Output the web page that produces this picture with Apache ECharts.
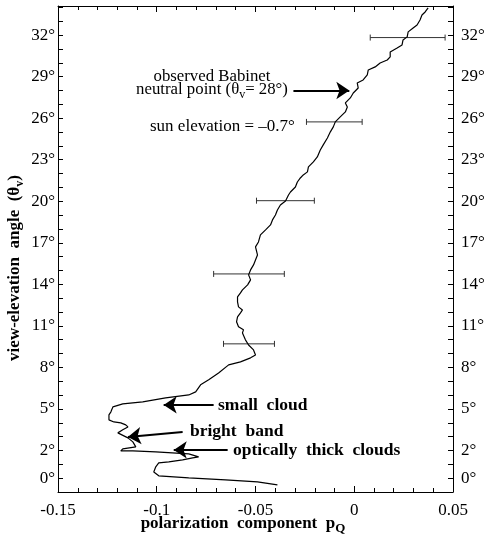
<!DOCTYPE html>
<html>
<head>
<meta charset="utf-8">
<script src="https://cdn.jsdelivr.net/npm/echarts@6/dist/echarts.min.js"></script>
<style>html,body{margin:0;padding:0;background:#fff}#c{width:488px;height:543px}</style>
</head>
<body>
<div id="c"></div>
<script>
// ---- data ----
const curvePQ = [-0.0389,-0.0490,-0.0652,-0.0838,-0.0990,-0.1015,-0.1005,-0.0990,-0.0939,-0.0869,-0.0818,-0.0788,-0.0838,-0.1005,-0.1121,-0.1182,-0.1172,-0.1106,-0.1096,-0.1121,-0.1146,-0.1197,-0.1207,-0.1172,-0.1146,-0.1157,-0.1182,-0.1217,-0.1242,-0.1242,-0.1232,-0.1222,-0.1172,-0.1071,-0.0955,-0.0838,-0.0803,-0.0778,-0.0737,-0.0687,-0.0636,-0.0576,-0.0525,-0.0500,-0.0510,-0.0535,-0.0551,-0.0566,-0.0561,-0.0586,-0.0596,-0.0591,-0.0576,-0.0566,-0.0586,-0.0591,-0.0591,-0.0576,-0.0566,-0.0540,-0.0525,-0.0535,-0.0525,-0.0510,-0.0500,-0.0490,-0.0500,-0.0485,-0.0475,-0.0449,-0.0424,-0.0414,-0.0399,-0.0389,-0.0374,-0.0348,-0.0333,-0.0323,-0.0298,-0.0288,-0.0273,-0.0258,-0.0237,-0.0232,-0.0207,-0.0187,-0.0172,-0.0157,-0.0136,-0.0121,-0.0106,-0.0096,-0.0071,-0.0045,-0.0035,-0.0045,-0.0020,-0.0005,0.0020,0.0015,0.0045,0.0066,0.0071,0.0106,0.0131,0.0167,0.0182,0.0182,0.0217,0.0242,0.0247,0.0268,0.0273,0.0298,0.0318,0.0333,0.0343,0.0359,0.0374];
const curveTheta = [-0.48,-0.27,-0.12,0.02,0.17,0.45,0.82,1.10,1.18,1.32,1.47,1.54,1.75,1.90,1.97,1.97,2.12,2.26,2.40,2.62,2.91,3.27,3.34,3.49,3.70,3.85,3.99,4.06,4.21,4.57,4.79,5.15,5.36,5.51,5.80,6.01,6.23,6.74,7.10,7.60,8.18,8.40,8.69,8.90,9.26,9.62,9.99,10.49,10.71,10.93,11.29,11.65,11.94,12.15,12.37,12.73,13.09,13.38,13.60,13.96,14.32,14.68,15.04,15.40,15.76,16.12,16.70,17.06,17.57,17.93,18.29,18.65,19.01,19.37,19.73,20.02,20.45,20.67,21.03,21.39,21.68,21.90,22.12,22.48,22.84,23.20,23.70,24.07,24.57,25.01,25.37,25.73,26.09,26.45,26.81,27.10,27.46,27.82,28.18,28.54,28.76,29.12,29.48,29.70,29.98,30.20,30.42,30.78,31.07,31.29,31.65,31.87,32.23,32.51,32.73,33.09,33.45,33.67,33.96];

const errTheta = [9.70, 14.75, 20.04, 25.73, 31.82];
const errLow   = [-0.0662, -0.0712, -0.0495, -0.0242, 0.0081];
const errHigh  = [-0.0404, -0.0354, -0.0202, 0.0040, 0.0460];

const yTickLabels = [0, 2, 5, 8, 11, 14, 17, 20, 23, 26, 29, 32];
const xTickValues = [-0.15, -0.1, -0.05, 0, 0.05];

// annotation arrows (data coordinates): [pQ start, theta start, pQ end, theta end]
const arrowBabinet = [-0.0308, 28.0, -0.0025, 28.0];
const arrowSmallCloud = [-0.0712, 5.29, -0.0965, 5.29];
const arrowBrightBand = [-0.0869, 3.34, -0.1146, 2.98];
const arrowThickClouds = [-0.0641, 2.04, -0.0914, 2.04];

// ---- chart ----
const FONT = '"Liberation Serif", "DejaVu Serif", serif';
const chart = echarts.init(document.getElementById('c'), null, {renderer: 'canvas'});

const curveData = curvePQ.map((v, i) => [v, curveTheta[i]]);
const errData = errTheta.map((t, i) => [t, errLow[i], errHigh[i]]);
const arrows = [arrowBabinet, arrowSmallCloud, arrowBrightBand, arrowThickClouds]
  .map(a => ({coords: [[a[0], a[1]], [a[2], a[3]]]}));

const xFmt = v => {
  const r = Math.round(v * 100) / 100;
  return xTickValues.some(t => Math.abs(t - r) < 1e-9) ? String(r) : '';
};
const yFmt = v => {
  const r = Math.round(v);
  return (Math.abs(v - r) < 1e-6 && yTickLabels.indexOf(r) >= 0) ? r + '°' : '';
};

const axisLineStyle = {color: '#000', width: 1};
const xAxisCommon = {
  type: 'value', min: -0.15, max: 0.05, interval: 0.05,
  axisLine: {show: true, onZero: false, lineStyle: axisLineStyle},
  axisTick: {show: true, inside: true, length: 6, lineStyle: {color: '#000'}},
  minorTick: {show: true, splitNumber: 5, length: 4, lineStyle: {color: '#000'}},
  splitLine: {show: false}
};
const yAxisCommon = {
  type: 'value', min: -1, max: 34.1, interval: 1,
  axisLine: {show: true, onZero: false, lineStyle: axisLineStyle},
  axisTick: {show: true, inside: true, length: 5, lineStyle: {color: '#000'}},
  splitLine: {show: false}
};

chart.setOption({
  animation: false,
  backgroundColor: '#fff',
  grid: {left: 58, right: 35, top: 6, bottom: 51, containLabel: false},
  xAxis: [
    Object.assign({}, xAxisCommon, {
      position: 'bottom',
      axisLabel: {show: true, formatter: xFmt, color: '#000', fontFamily: FONT, fontSize: 17, margin: 10}
    }),
    Object.assign({}, xAxisCommon, {
      position: 'top',
      axisLabel: {show: false}
    })
  ],
  yAxis: [
    Object.assign({}, yAxisCommon, {
      position: 'left',
      axisLabel: {show: true, formatter: yFmt, color: '#000', fontFamily: FONT, fontSize: 17, margin: 3}
    }),
    Object.assign({}, yAxisCommon, {
      position: 'right',
      axisLabel: {show: true, formatter: yFmt, color: '#000', fontFamily: FONT, fontSize: 17, margin: 8}
    })
  ],
  series: [
    {
      type: 'line', xAxisIndex: 0, yAxisIndex: 0,
      data: curveData, showSymbol: false, symbol: 'none',
      lineStyle: {color: '#000', width: 1.2}, z: 3
    },
    {
      type: 'custom', xAxisIndex: 0, yAxisIndex: 0,
      data: errData,
      encode: {x: [1, 2], y: 0},
      renderItem: function (params, api) {
        const t = api.value(0), lo = api.value(1), hi = api.value(2);
        const p1 = api.coord([lo, t]);
        const p2 = api.coord([hi, t]);
        const cap = 3;
        const st = {stroke: '#333', lineWidth: 1};
        return {type: 'group', children: [
          {type: 'line', shape: {x1: p1[0], y1: p1[1], x2: p2[0], y2: p2[1]}, style: st},
          {type: 'line', shape: {x1: p1[0], y1: p1[1] - cap, x2: p1[0], y2: p1[1] + cap}, style: st},
          {type: 'line', shape: {x1: p2[0], y1: p2[1] - cap, x2: p2[0], y2: p2[1] + cap}, style: st}
        ]};
      },
      z: 2
    },
    {
      type: 'lines', coordinateSystem: 'cartesian2d', xAxisIndex: 0, yAxisIndex: 0,
      data: arrows,
      symbol: ['none', 'arrow'], symbolSize: [8, 13],
      lineStyle: {color: '#000', width: 2, opacity: 1},
      z: 4
    }
  ],
  graphic: [
    {type: 'text', x: 212, y: 77, style: {text: 'observed Babinet', fontFamily: FONT, fontSize: 16.8, fill: '#000', align: 'center', verticalAlign: 'middle'}},
    {type: 'text', x: 212, y: 90, style: {
      text: 'neutral point (θ{sub|v}= 28°)', fontFamily: FONT, fontSize: 16.8, fill: '#000', align: 'center', verticalAlign: 'middle',
      rich: {sub: {fontFamily: FONT, fontSize: 12, fill: '#000', padding: [10, 0, 0, 0]}}
    }},
    {type: 'text', x: 150, y: 127, style: {text: 'sun elevation = –0.7°', fontFamily: FONT, fontSize: 17, fill: '#000', align: 'left', verticalAlign: 'middle'}},
    {type: 'text', x: 218, y: 405, style: {text: 'small  cloud', fontFamily: FONT, fontSize: 17.5, fontWeight: 'bold', fill: '#000', align: 'left', verticalAlign: 'middle'}},
    {type: 'text', x: 190, y: 431, style: {text: 'bright  band', fontFamily: FONT, fontSize: 17.5, fontWeight: 'bold', fill: '#000', align: 'left', verticalAlign: 'middle'}},
    {type: 'text', x: 233, y: 450, style: {text: 'optically  thick  clouds', fontFamily: FONT, fontSize: 17.5, fontWeight: 'bold', fill: '#000', align: 'left', verticalAlign: 'middle'}},
    {type: 'text', x: 243, y: 524, style: {
      text: 'polarization  component  p{sub|Q}', fontFamily: FONT, fontSize: 17, fontWeight: 'bold', fill: '#000', align: 'center', verticalAlign: 'middle',
      rich: {sub: {fontFamily: FONT, fontSize: 13, fontWeight: 'bold', fill: '#000', padding: [10, 0, 0, 0]}}
    }},
    {type: 'text', x: 15, y: 268, rotation: Math.PI / 2, style: {
      text: 'view-elevation  angle  (θ{sub|v})', fontFamily: FONT, fontSize: 17, fontWeight: 'bold', fill: '#000', align: 'center', verticalAlign: 'middle',
      rich: {sub: {fontFamily: FONT, fontSize: 12, fontWeight: 'bold', fill: '#000', padding: [10, 0, 0, 0]}}
    }}
  ]
});
</script>
</body>
</html>
